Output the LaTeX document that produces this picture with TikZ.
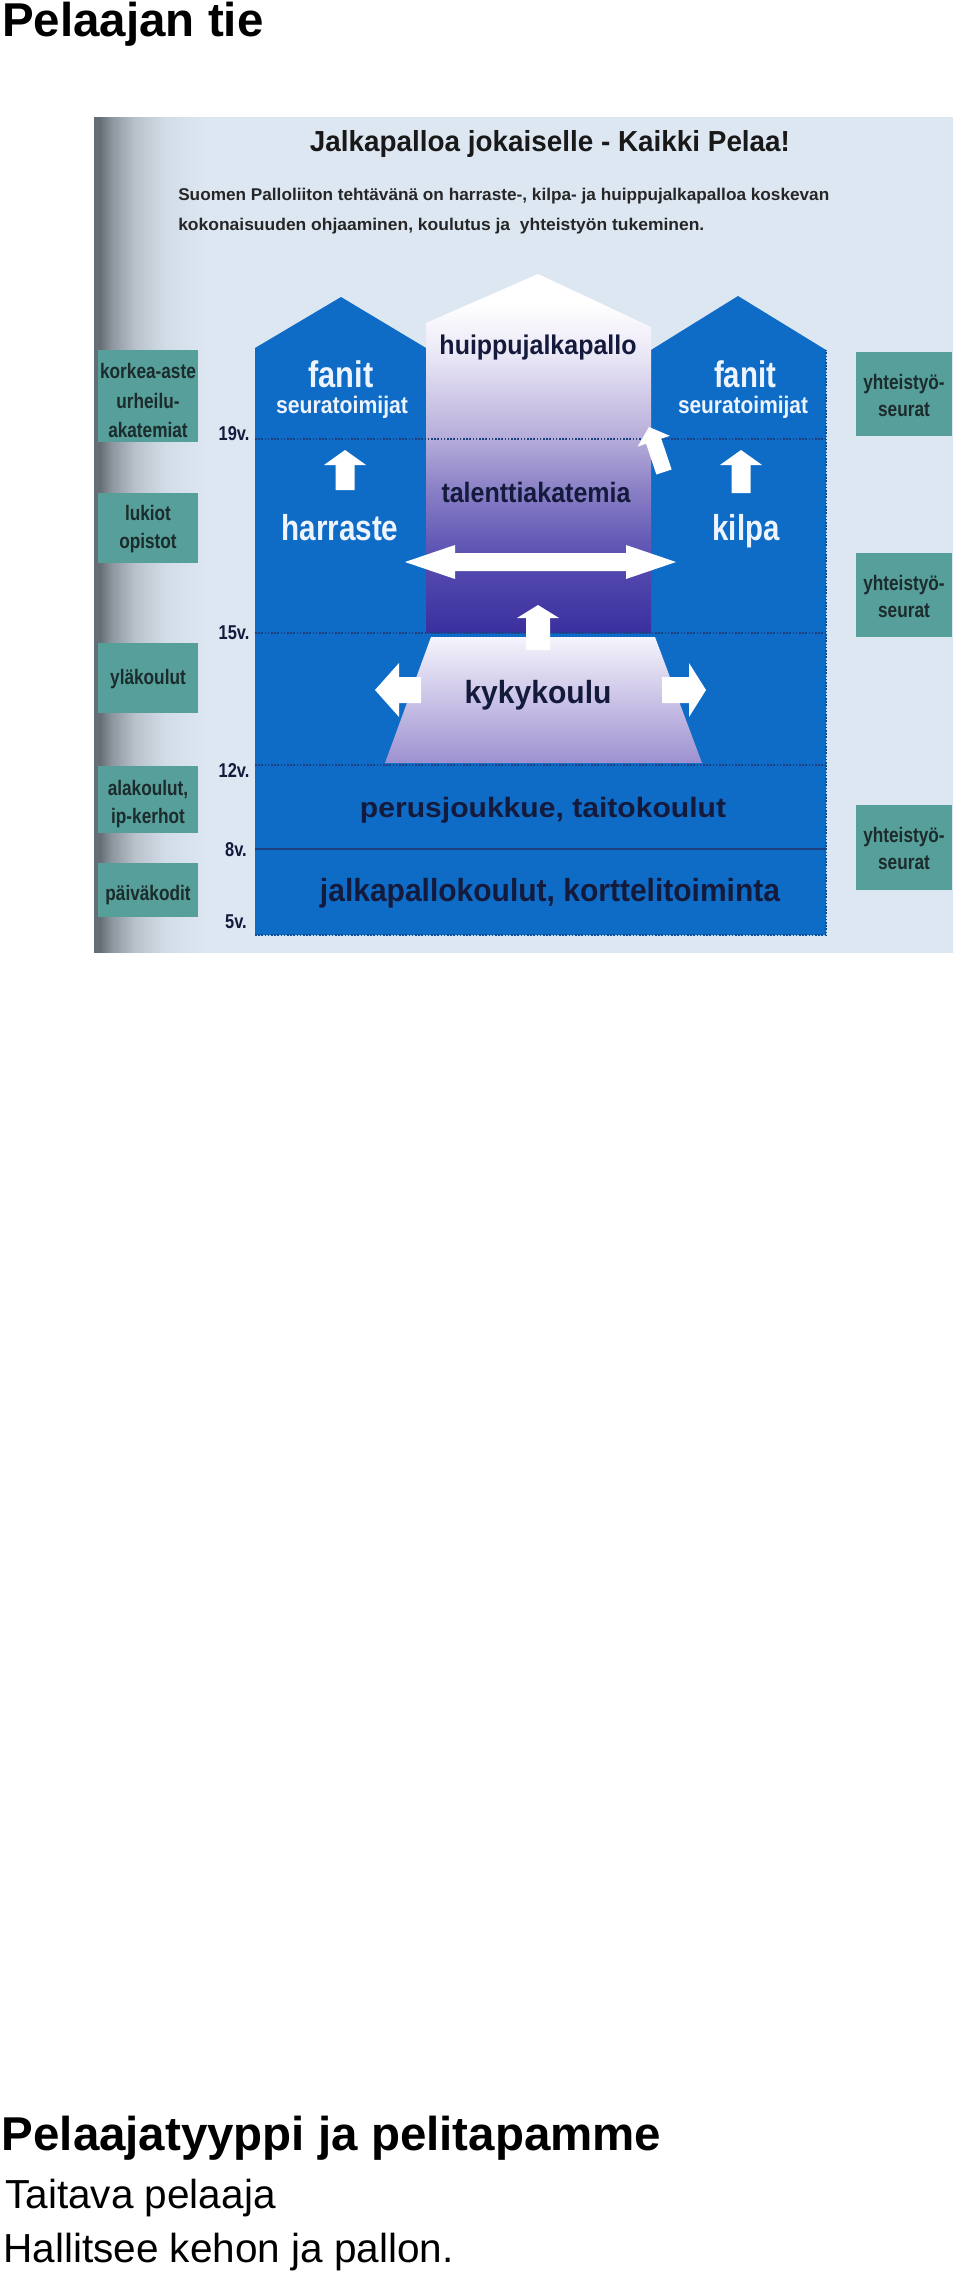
\documentclass[tikz,border=0pt]{standalone}
\usepackage{fontspec}
\setmainfont{Liberation Sans}
\usepackage{graphicx}
\newlength\px \setlength\px{0.75pt}
\newcommand\fw[2]{\resizebox{#1\px}{\height}{#2}}
\newcommand\cz[1]{\scalebox{0.82}[1]{#1}}
\newcommand\fsz[1]{\fontsize{#1}{#1}\selectfont}
\definecolor{bgc}{HTML}{DDE7F2}
\definecolor{blu}{HTML}{0F6CC6}
\definecolor{bluD}{HTML}{0B4F9A}
\definecolor{tea}{HTML}{569F9B}
\definecolor{teatx}{HTML}{1C2B2B}
\definecolor{navy}{HTML}{141A3C}
\definecolor{wht}{HTML}{EEF4FD}
\definecolor{dotc}{HTML}{1D3F80}
\definecolor{gA}{HTML}{666E75}
\definecolor{gC}{HTML}{8E979F}
\definecolor{gD}{HTML}{B9C2CB}
\definecolor{gE}{HTML}{D2DCE6}
\definecolor{pA}{HTML}{3A2F9E}
\definecolor{pB}{HTML}{564CB0}
\definecolor{pC}{HTML}{8A80C6}
\definecolor{pD}{HTML}{B5ACD9}
\definecolor{pE}{HTML}{EBE8F6}
\definecolor{trT}{HTML}{F6F4FC}
\definecolor{trM}{HTML}{D3CDEC}
\definecolor{trB}{HTML}{9D91D0}
\pgfdeclareverticalshading{colsh}{100bp}{color(0bp)=(pA); color(25bp)=(pA); color(35bp)=(pB); color(45bp)=(pC); color(52bp)=(pD); color(64bp)=(pE); color(71bp)=(white); color(100bp)=(white)}
\pgfdeclarehorizontalshading{bgsh}{100bp}{color(0bp)=(gA); color(25bp)=(gA); color(25.35bp)=(gA); color(26.05bp)=(gC); color(27.39bp)=(gD); color(29.13bp)=(gE); color(31.46bp)=(bgc); color(75bp)=(bgc); color(100bp)=(bgc)}
\tikzset{
  pg/.style={inner sep=0pt, anchor=base west, text=black},
  sl/.style={inner sep=0pt, anchor=base},
  dark/.style={sl, text=navy, font=\bfseries},
  whitetx/.style={sl, text=wht, font=\bfseries},
  agetx/.style={sl, text=navy, font=\bfseries\fsz{15pt}},
  tbx/.style={fill=tea, draw=none, inner sep=0pt},
  ttx/.style={sl, text=teatx, font=\bfseries\fsz{15.75pt}},
  dotl/.style={draw=dotc, line width=1.2pt, dash pattern=on 1.2pt off 1.2pt},
  warrow/.style={fill=white},
}
\begin{document}
\begin{tikzpicture}[x=0.75pt,y=-0.75pt]
\path[use as bounding box] (0,0) rectangle (960,2276);

% page texts
\node[pg, font=\bfseries\fsz{35.6pt}] (ptitle) at (2,37) {Pelaajan tie};
\node[pg, font=\bfseries\fsz{35.6pt}] (phead) at (1.5,2150) {Pelaajatyyppi ja pelitapamme};
\node[pg, font=\fsz{30.4pt}] (pline1) at (5,2208) {Taitava pelaaja};
\node[pg, font=\fsz{30.4pt}] (pline2) at (3,2262) {Hallitsee kehon ja pallon.};

% slide background (one shading, so no seam)
\shade[shading=bgsh] (94,118) rectangle (953,952);

% slide title and subtitle
\node[sl, text=black!90, font=\bfseries\fsz{21.75pt}] (stitle) at (550,152) {\fw{480}{Jalkapalloa jokaiselle - Kaikki Pelaa!}};
\node[pg, text=black!85, font=\bfseries\fsz{12.75pt}] (ssub1) at (178,200) {\fw{651}{Suomen Palloliiton tehtävänä on harraste-, kilpa- ja huippujalkapalloa koskevan}};
\node[pg, text=black!85, font=\bfseries\fsz{12.75pt}] (ssub2) at (178,231) {\fw{526}{kokonaisuuden ohjaaminen, koulutus ja\ \ yhteistyön tukeminen.}};

% left teal boxes
\node[tbx, minimum width=75pt, minimum height=69pt] (bA) at (148,396) {};
\node[tbx, minimum width=75pt, minimum height=52.5pt] (bB) at (148,528) {};
\node[tbx, minimum width=75pt, minimum height=52.5pt] (bC) at (148,678) {};
\node[tbx, minimum width=75pt, minimum height=50.25pt] (bD) at (148,799.5) {};
\node[tbx, minimum width=75pt, minimum height=40.5pt] (bE) at (148,890) {};
% right teal boxes
\node[tbx, minimum width=72pt, minimum height=63pt] (rA) at (904,394) {};
\node[tbx, minimum width=72pt, minimum height=63pt] (rB) at (904,595) {};
\node[tbx, minimum width=72pt, minimum height=63.75pt] (rC) at (904,847.5) {};

\node[ttx] (bA1) at (148,378) {\cz{korkea-aste}};
\node[ttx] (bA2) at (148,408) {\cz{urheilu-}};
\node[ttx] (bA3) at (148,437) {\cz{akatemiat}};
\node[ttx] (bB1) at (148,520) {\cz{lukiot}};
\node[ttx] (bB2) at (148,548) {\cz{opistot}};
\node[ttx] (bC1) at (148,684) {\cz{yläkoulut}};
\node[ttx] (bD1) at (148,795) {\cz{alakoulut,}};
\node[ttx] (bD2) at (148,823) {\cz{ip-kerhot}};
\node[ttx] (bE1) at (148,900) {\cz{päiväkodit}};
\node[ttx] (rA1) at (904,389) {\cz{yhteistyö-}};
\node[ttx] (rA2) at (904,416) {\cz{seurat}};
\node[ttx] (rB1) at (904,590) {\cz{yhteistyö-}};
\node[ttx] (rB2) at (904,617) {\cz{seurat}};
\node[ttx] (rC1) at (904,842) {\cz{yhteistyö-}};
\node[ttx] (rC2) at (904,869) {\cz{seurat}};

% blue houses
\fill[blu] (255,935) -- (255,348) -- (341,297) -- (426,348) -- (426,633) -- (651,633) -- (651,350) -- (738,296) -- (826,350) -- (826,935) -- cycle;
\draw[dotl, draw=bluD] (255,935) -- (826,935) -- (826,350);
% centre column
\shade[shading=colsh] (426,633) -- (426,323) -- (538,274) -- (651,327) -- (651,633) -- cycle;

% age lines
\draw[dotl] (255,439) -- (826,439);
\draw[dotl] (255,633) -- (826,633);
\draw[dotl] (255,765) -- (826,765);
\draw[draw=dotc, line width=1.5pt] (255,849) -- (826,849);

% kykykoulu trapezoid
\shade[top color=trT, middle color=trM, bottom color=trB] (431,637) -- (655,637) -- (702,763) -- (385,763) -- cycle;

% white block arrows
\fill[warrow] (345,450) -- (366,465) -- (354.5,465) -- (354.5,490) -- (335.5,490) -- (335.5,465) -- (324,465) -- cycle;
\fill[warrow] (741,450) -- (762,465) -- (750.5,465) -- (750.5,493) -- (731.5,493) -- (731.5,465) -- (720,465) -- cycle;
\fill[warrow] (538,605) -- (559,618) -- (550,618) -- (550,650) -- (526,650) -- (526,618) -- (517,618) -- cycle;
\fill[warrow] (405,562) -- (455,545) -- (455,553) -- (626,553) -- (626,545) -- (676,562) -- (626,579) -- (626,571) -- (455,571) -- (455,579) -- cycle;
\fill[warrow] (375,690) -- (399,663) -- (399,677) -- (421,677) -- (421,703) -- (399,703) -- (399,717) -- cycle;
\fill[warrow] (706,690) -- (689,663) -- (689,677) -- (662,677) -- (662,703) -- (689,703) -- (689,717) -- cycle;
\fill[warrow] (649,427) -- (669.8,435.8) -- (661.3,438.7) -- (671.6,469.5) -- (656.4,474.5) -- (646.1,443.7) -- (637.6,446.6) -- cycle;

% age labels
\node[agetx] (a19) at (234,440) {\cz{19v.}};
\node[agetx] (a15) at (234,639) {\cz{15v.}};
\node[agetx] (a12) at (234,777) {\cz{12v.}};
\node[agetx] (a8) at (236,856) {\cz{8v.}};
\node[agetx] (a5) at (236,928) {\cz{5v.}};

% texts in the diagram
\node[dark, font=\bfseries\fsz{20.25pt}] (huippu) at (538,354) {\fw{197}{huippujalkapallo}};
\node[dark, font=\bfseries\fsz{21pt}] (talentti) at (536,502) {\fw{189}{talenttiakatemia}};
\node[dark, font=\bfseries\fsz{24pt}] (kyky) at (538,703) {\fw{147}{kykykoulu}};
\node[dark, font=\bfseries\fsz{21pt}] (perus) at (543,817) {\fw{366}{perusjoukkue, taitokoulut}};
\node[dark, font=\bfseries\fsz{24pt}] (jalka) at (550,901) {\fw{460}{jalkapallokoulut, korttelitoiminta}};
\node[whitetx, font=\bfseries\fsz{27.75pt}] (fanitL) at (341,387) {\fw{65}{fanit}};
\node[whitetx, font=\bfseries\fsz{27.75pt}] (fanitR) at (745,387) {\fw{62}{fanit}};
\node[whitetx, font=\bfseries\fsz{18pt}] (seuraL) at (342,413) {\fw{132}{seuratoimijat}};
\node[whitetx, font=\bfseries\fsz{18pt}] (seuraR) at (743,413) {\fw{130}{seuratoimijat}};
\node[whitetx, font=\bfseries\fsz{27pt}] (harraste) at (340,540) {\fw{117}{harraste}};
\node[whitetx, font=\bfseries\fsz{27pt}] (kilpa) at (746,540) {\fw{67}{kilpa}};
\end{tikzpicture}
\end{document}
